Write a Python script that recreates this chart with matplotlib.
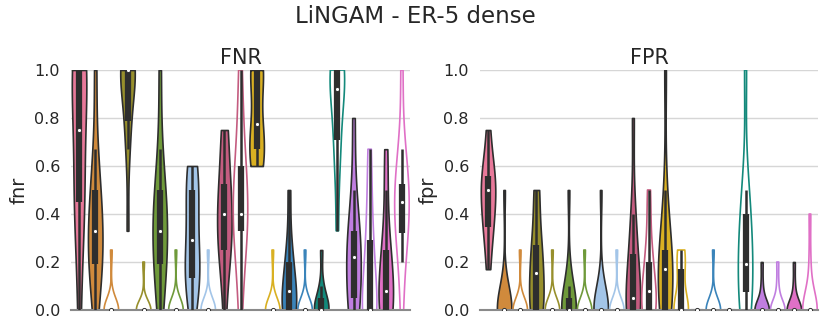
import numpy as np
import matplotlib
matplotlib.use("Agg")
import matplotlib.pyplot as plt

# colours of the 21 violins (filled one, then its outline twin)
palette = ["#e8799a",
           "#d08a3c", "#d08a3c",
           "#978f2c", "#978f2c",
           "#6f9a3a", "#6f9a3a",
           "#a3c5e8", "#a3c5e8",
           "#c45c80", "#c45c80",
           "#d9b022", "#d9b022",
           "#3a84ba", "#3a84ba",
           "#13897b", "#13897b",
           "#c07ee0", "#c07ee0",
           "#e070c6", "#e070c6"]
filled = [True] + [True, False] * 10

fnr_values = [
    [0, 0.33, 0.4, 0.5, 0.6, 0.75, 1, 1, 1, 1, 1],
    [0, 0.14, 0.17, 0.2, 0.25, 0.33, 0.33, 0.4, 0.5, 0.5, 0.67, 1],
    [0, 0, 0, 0, 0, 0, 0, 0, 0, 0.25],
    [0.33, 0.67, 0.75, 0.8, 1, 1, 1, 1, 1, 1, 1, 1],
    [0, 0, 0, 0, 0, 0, 0, 0, 0, 0.2],
    [0, 0.1, 0.17, 0.2, 0.33, 0.33, 0.33, 0.4, 0.5, 0.5, 0.67, 1],
    [0, 0, 0, 0, 0, 0, 0, 0, 0, 0.25],
    [0, 0.1, 0.12, 0.14, 0.2, 0.25, 0.33, 0.4, 0.5, 0.5, 0.6, 0.6],
    [0, 0, 0, 0, 0, 0, 0, 0, 0, 0.25],
    [0, 0.2, 0.25, 0.25, 0.33, 0.4, 0.4, 0.5, 0.5, 0.6, 0.75, 0.75],
    [0, 0.2, 0.33, 0.33, 0.4, 0.4, 0.5, 0.6, 0.6, 0.8, 1.0],
    [0.6, 0.6, 0.67, 0.67, 0.75, 0.8, 1, 1, 1, 1],
    [0, 0, 0, 0, 0, 0, 0, 0, 0, 0.25],
    [0, 0, 0, 0, 0.08, 0.1, 0.2, 0.25, 0.5],
    [0, 0, 0, 0, 0, 0, 0, 0, 0, 0.25],
    [0, 0, 0, 0, 0, 0, 0.05, 0.1, 0.25],
    [0.33, 0.6, 0.67, 0.75, 0.9, 0.92, 1, 1, 1, 1, 1],
    [0, 0, 0, 0.1, 0.2, 0.22, 0.25, 0.33, 0.33, 0.5, 0.8],
    [0, 0, 0, 0, 0, 0, 0.2, 0.25, 0.33, 0.5, 0.67],
    [0, 0, 0, 0, 0.08, 0.08, 0.2, 0.25, 0.25, 0.5, 0.67],
    [0, 0.2, 0.3, 0.33, 0.4, 0.4, 0.5, 0.5, 0.5, 0.6, 0.67, 1.0],
]

fpr_values = [
    [0.17, 0.33, 0.33, 0.4, 0.5, 0.5, 0.5, 0.58, 0.6, 0.75],
    [0, 0, 0, 0, 0, 0, 0, 0, 0, 0.1, 0.5],
    [0, 0, 0, 0, 0, 0, 0, 0, 0, 0.25],
    [0, 0, 0, 0, 0.1, 0.14, 0.17, 0.25, 0.25, 0.33, 0.5, 0.5],
    [0, 0, 0, 0, 0, 0, 0, 0, 0, 0.25],
    [0, 0, 0, 0, 0, 0, 0, 0, 0.1, 0.15, 0.5],
    [0, 0, 0, 0, 0, 0, 0, 0, 0, 0.25],
    [0, 0, 0, 0, 0, 0, 0, 0, 0, 0.1, 0.5],
    [0, 0, 0, 0, 0, 0, 0, 0, 0, 0.25],
    [0, 0, 0, 0, 0, 0, 0.1, 0.2, 0.2, 0.33, 0.4, 0.8],
    [0, 0, 0, 0, 0, 0.07, 0.08, 0.1, 0.2, 0.2, 0.25, 0.4, 0.5],
    [0, 0, 0, 0, 0.1, 0.17, 0.17, 0.2, 0.25, 0.25, 0.33, 0.5, 1.0],
    [0, 0, 0, 0, 0, 0, 0.17, 0.17, 0.25, 0.25],
    [0, 0, 0, 0, 0, 0, 0, 0, 0, 0],
    [0, 0, 0, 0, 0, 0, 0, 0, 0, 0.25],
    [0, 0, 0, 0, 0, 0, 0, 0, 0, 0],
    [0, 0, 0, 0.1, 0.17, 0.18, 0.2, 0.33, 0.4, 0.4, 0.5, 1.0],
    [0, 0, 0, 0, 0, 0, 0, 0, 0.1, 0.2],
    [0, 0, 0, 0, 0, 0, 0, 0, 0.1, 0.2],
    [0, 0, 0, 0, 0, 0, 0, 0, 0.1, 0.2],
    [0, 0, 0, 0, 0, 0, 0, 0, 0, 0.2, 0.4],
]

dark = "#2e2e2e"


def draw_violins(ax, values):
    for i, (vals, col, fill) in enumerate(zip(values, palette, filled)):
        vals = np.asarray(vals, dtype=float)
        edge = dark if fill else col
        if vals.max() > vals.min():
            parts = ax.violinplot([vals], positions=[i], widths=0.9,
                                  showextrema=False)
            body = parts["bodies"][0]
            body.set_facecolor(col if fill else "none")
            body.set_edgecolor(edge)
            body.set_linewidth(1.2)
            body.set_alpha(1)
        else:
            ax.plot([i - 0.3, i + 0.3], [vals[0], vals[0]], color=edge, lw=1.5)
        # inner box like seaborn
        q1, med, q3 = np.percentile(vals, [25, 50, 75])
        iqr = q3 - q1
        lo = vals[vals >= q1 - 1.5 * iqr].min()
        hi = vals[vals <= q3 + 1.5 * iqr].max()
        ax.plot([i, i], [lo, hi], color=dark, lw=1.8, solid_capstyle="butt", zorder=3)
        ax.plot([i, i], [q1, q3], color=dark, lw=4.5, solid_capstyle="butt", zorder=3)
        ax.plot(i, med, "o", ms=3, mfc="white", mec=dark, mew=0.7, zorder=4)


fig = plt.figure(figsize=(8.3, 3.32), dpi=100)
ax1 = fig.add_axes([71 / 830, 22 / 332, 339 / 830, 240 / 332])
ax2 = fig.add_axes([480 / 830, 22 / 332, 338 / 830, 240 / 332])

for ax, values, title, label in [(ax1, fnr_values, "FNR", "fnr"),
                                 (ax2, fpr_values, "FPR", "fpr")]:
    draw_violins(ax, values)
    ax.set_xlim(-0.5, len(values) - 0.5)
    ax.set_ylim(0, 1)
    ax.set_yticks(np.arange(0, 1.01, 0.2))
    ax.set_yticklabels(["%.1f" % t for t in np.arange(0, 1.01, 0.2)])
    ax.set_xticks([])
    ax.tick_params(axis="y", length=0, pad=8, labelsize=11.5, labelcolor="#262626")
    ax.grid(axis="y", color="#d6d6d6", lw=1)
    ax.set_axisbelow(True)
    for s in ["top", "right", "left"]:
        ax.spines[s].set_visible(False)
    ax.spines["bottom"].set_color("#8a8a8a")
    ax.spines["bottom"].set_linewidth(1.5)
    ax.set_title(title, fontsize=15, pad=4, color="#262626")
    ax.set_ylabel(label, fontsize=14, labelpad=4, color="#262626")

fig.suptitle("LiNGAM - ER-5 dense", fontsize=16.5, y=0.985, color="#262626")

plt.savefig("out.png", dpi=100)
